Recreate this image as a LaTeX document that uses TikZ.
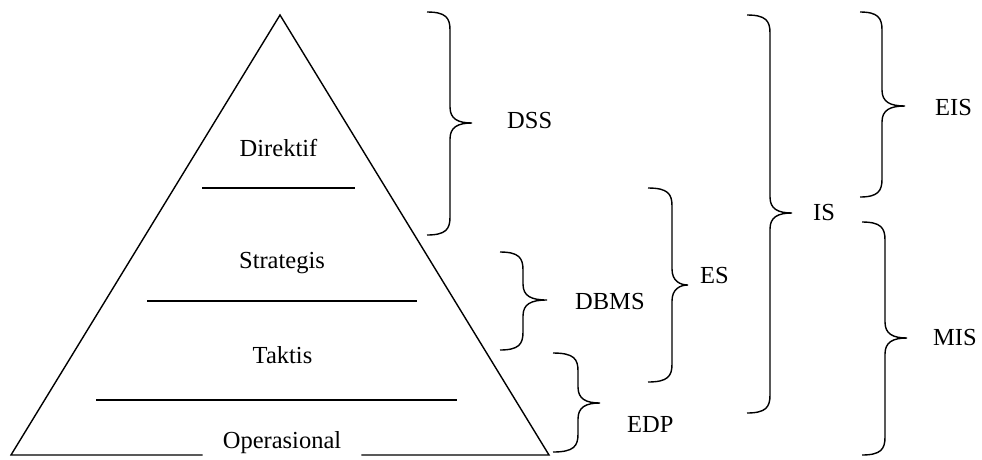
\documentclass[tikz,border=0pt]{standalone}
\usepackage{fontspec}
\setmainfont{Liberation Serif}
\newcommand\mybrace[6]{% x0, top, xv, tipx, tipy, bottom
  \draw[brc] (#1,#2) .. controls (#3-4,#2) and (#3,#2+6) .. (#3,#2+18) -- (#3,#5-16)
    .. controls (#3,#5-4) and (#3+8,#5) .. (#4,#5) .. controls (#3+8,#5) and (#3,#5+4) .. (#3,#5+16)
    -- (#3,#6-18) .. controls (#3,#6-6) and (#3-4,#6) .. (#1,#6);}
\begin{document}
\begin{tikzpicture}[x=1pt,y=-1pt,
  ln/.style={line width=1.4pt,line cap=butt},
  brc/.style={line width=1.4pt},
  lbl/.style={anchor=base,inner sep=0pt,font=\fontsize{24.5}{29}\selectfont}]
\useasboundingbox (0,0) rectangle (982,459);
% triangle
\coordinate (apex) at (280,15);
\coordinate (bl) at (11,455);
\coordinate (br) at (549,455);
\node[lbl,inner xsep=20pt] (op) at (282,448) {Operasional};
\draw[ln,line join=miter] (op.west |- bl) -- (bl) -- (apex) -- (br) -- (op.east |- br);
% level labels and dividers
\node[lbl] (dir) at (278.5,156) {Direktif};
\node[lbl] (str) at (282,268) {Strategis};
\node[lbl] (tak) at (282.5,363) {Taktis};
\draw[ln] (202,188) -- (355,188);
\draw[ln] (147,301) -- (417,301);
\draw[ln] (96,400) -- (457,400);
% braces
\mybrace{427}{12}{450}{472}{123}{235}
\mybrace{500}{252}{523}{547}{300}{350}
\mybrace{648}{188}{672}{688}{285}{382}
\mybrace{553}{353}{578}{600}{403}{452}
\mybrace{747}{15}{770}{792}{213}{413}
\mybrace{860}{12}{882}{905}{106}{197}
\mybrace{862}{222}{885}{907}{338}{455}
% brace labels
\node[lbl,anchor=base west] (dss) at (507,128) {DSS};
\node[lbl,anchor=base west] (dbms) at (575,309) {DBMS};
\node[lbl,anchor=base west] (es) at (700,283) {ES};
\node[lbl,anchor=base west] (edp) at (627,432) {EDP};
\node[lbl,anchor=base west] (is) at (813,220) {IS};
\node[lbl,anchor=base west] (eis) at (935,115) {EIS};
\node[lbl,anchor=base west] (mis) at (933,345) {MIS};
\end{tikzpicture}
\end{document}
